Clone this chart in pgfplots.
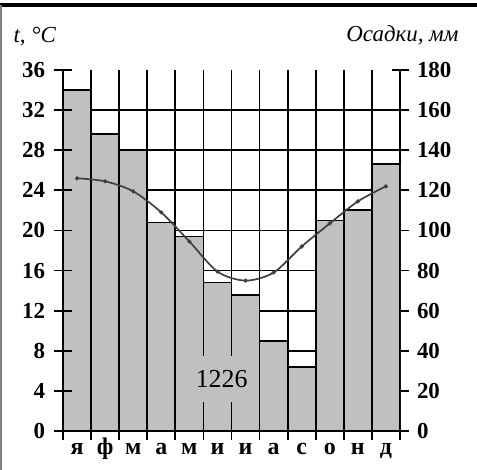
\documentclass[border=0pt]{standalone}
\usepackage{pgfplots}
\pgfplotsset{compat=1.18}
\usepackage{fontspec}
\setmainfont{Liberation Serif}

\definecolor{barc}{HTML}{C0C0C0}
\definecolor{linec}{HTML}{404040}

\begin{document}
\begin{tikzpicture}
    % frame of the picture
    \useasboundingbox (0,0) rectangle (477bp,470bp);
    \draw[line width=3.5bp] (0,465bp) -- (477bp,465bp);
    \draw[gray, line width=1.2bp] (1bp,0) -- (1bp,465bp);
    \node[anchor=west, font=\fontsize{23}{23}\selectfont\itshape] at (10bp,433bp) {t, °C};
    \node[anchor=east, font=\fontsize{23}{23}\selectfont\itshape] at (462bp,435bp) {Осадки, мм};

    \pgfplotsset{
        every axis/.append style={
            at={(63bp,39bp)}, anchor=south west,
            scale only axis, width=337bp, height=361bp,
            xmin=-0.5, xmax=11.5,
            axis line style={line width=1.8bp},
            tick style={line width=1.8bp, black},
            tick align=center,
            major tick length=17bp,
            /pgf/number format/assume math mode=true,
            tick label style={font=\fontsize{23}{23}\selectfont\bfseries},
        },
    }

    % precipitation, mm (bars, right axis)
    \begin{axis}[
            ymin=0, ymax=180,
            axis y line*=right,
            axis x line*=bottom,
            ytick={0,20,...,160},
            ymajorgrids,
            extra y ticks={180},
            extra y tick style={grid=none},
            yticklabel style={xshift=5bp},
            xtick={-0.5,0.5,...,11.5},
            xticklabels={},
            xmajorgrids,
            extra x ticks={0,...,11},
            extra x tick labels={я,ф,м,а,м,и,и,а,с,о,н,д},
            extra x tick style={grid=none, major tick length=0pt,
                tick label style={font=\fontsize{24}{24}\selectfont\bfseries,
                    text height=20bp, text depth=6bp}},
            grid style={black, line width=1.8bp},
        ]
        \addplot[ybar, bar width=1, fill=barc, draw=black, line width=1.8bp] coordinates {
            (0, 170)
            (1, 148)
            (2, 140)
            (3, 104)
            (4,  97)
            (5,  74)
            (6,  68)
            (7,  45)
            (8,  32)
            (9, 105)
            (10,110)
            (11,133)
        };
        \node[fill=barc, inner xsep=2bp, inner ysep=14bp,
            font=\fontsize{26}{26}\selectfont] at (axis cs:5.15,26) {1226};
    \end{axis}

    % temperature, deg C (line, left axis)
    \begin{axis}[
            ymin=0, ymax=36,
            axis y line*=left,
            axis x line=none,
            ytick={0,4,...,36},
            yticklabel style={xshift=-6bp},
            clip=false,
        ]
        \addplot[smooth, color=linec, line width=1.7bp, mark=*, mark size=1.1bp] coordinates {
            (0, 25.2)
            (1, 24.9)
            (2, 23.9)
            (3, 21.8)
            (4, 18.9)
            (5, 15.9)
            (6, 15.0)
            (7, 15.8)
            (8, 18.4)
            (9, 20.7)
            (10,22.9)
            (11,24.4)
        };
    \end{axis}
\end{tikzpicture}
\end{document}
